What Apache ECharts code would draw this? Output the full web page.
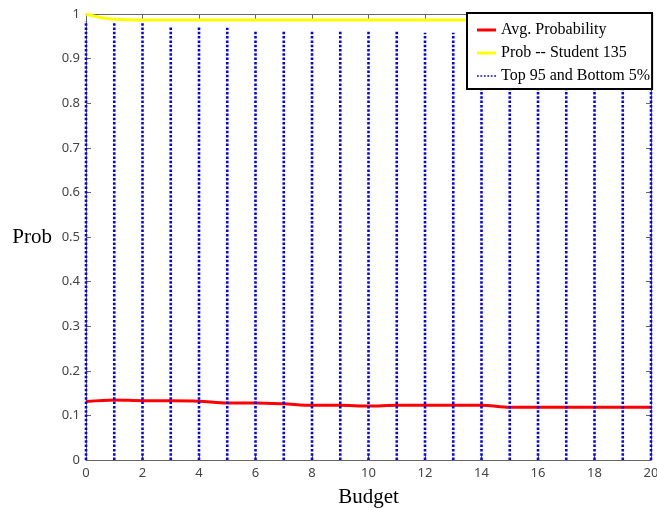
<!DOCTYPE html>
<html><head><meta charset="utf-8">
<script src="https://cdn.jsdelivr.net/npm/echarts@6/dist/echarts.min.js"></script>
<style>html,body{margin:0;padding:0;background:#fff}#c{width:657px;height:508px}</style>
</head><body><div id="c"></div>
<script>
var budget = [0,1,2,3,4,5,6,7,8,9,10,11,12,13,14,15,16,17,18,19,20];
var avgProb = [0.131,0.1345,0.133,0.133,0.132,0.128,0.128,0.126,0.1226,0.1226,0.121,0.1226,0.1226,0.1226,0.1226,0.118,0.118,0.118,0.118,0.118,0.118];
var studentProb = [1.0,0.988,0.9865,0.9865,0.9865,0.9865,0.9865,0.9865,0.9865,0.9865,0.9865,0.9865,0.9865,0.9865,0.9865,0.9865,0.9865,0.9865,0.9865,0.9865,0.9865];
var bandTop = [0.984,0.979,0.979,0.971,0.971,0.969,0.96,0.962,0.962,0.962,0.962,0.962,0.958,0.958,0.956,0.956,0.955,0.955,0.955,0.952,0.95];
var bandBottom = [0,0,0,0,0,0,0,0,0,0,0,0,0,0,0,0,0,0,0,0,0];
var xTicks = [0,2,4,6,8,10,12,14,16,18,20];
var yTicks = [0,0.1,0.2,0.3,0.4,0.5,0.6,0.7,0.8,0.9,1];

var bandData = [];
budget.forEach(function(x,i){
  bandData.push([x,bandBottom[i]]);
  bandData.push([x,bandTop[i]]);
  bandData.push([x,'-']);
});

var axisCol = '#666';
var tickFont = {color:'#444', fontFamily:'Noto Sans', fontSize:13};
function xAx(pos, show){
  return {type:'value', min:0, max:20, interval:2, position:pos,
    axisLine:{show:true, onZero:false, lineStyle:{color:axisCol, width:1}},
    axisTick:{show:true, inside:true, length:5, lineStyle:{color:axisCol}},
    axisLabel:Object.assign({show:show, margin:7}, tickFont),
    splitLine:{show:false},
    name: show ? 'Budget' : '', nameLocation:'middle', nameGap:27,
    nameTextStyle:{fontFamily:'Liberation Serif', fontSize:21, color:'#000'}};
}
function yAx(pos, show){
  return {type:'value', min:0, max:1, interval:0.1, position:pos,
    axisLine:{show:true, onZero:false, lineStyle:{color:axisCol, width:1}},
    axisTick:{show:true, inside:true, length:5, lineStyle:{color:axisCol}},
    axisLabel:Object.assign({show:show, margin:6, formatter:function(v){return String(Math.round(v*10)/10);}}, tickFont),
    splitLine:{show:false},
    name: show ? 'Prob' : '', nameLocation:'middle', nameGap:34, nameRotate:0,
    nameTextStyle:{fontFamily:'Liberation Serif', fontSize:21, color:'#000'}};
}

var dotPath = 'path://M0,0h2v2h-2zM4,0h2v2h-2zM8,0h2v2h-2zM12,0h2v2h-2zM16,0h2v2h-2zM20,0h2v2h-2z';
var chart = echarts.init(document.getElementById('c'), null, {renderer:'canvas'});
chart.setOption({
  animation:false,
  backgroundColor:'#fff',
  grid:{left:86, right:6, top:14, bottom:48, containLabel:false, outerBoundsMode:'none'},
  xAxis:[xAx('bottom', true), xAx('top', false)],
  yAxis:[yAx('left', true), yAx('right', false)],
  legend:{
    orient:'vertical', left:467, top:13, z:20, zlevel:0,
    backgroundColor:'#fff', borderColor:'#000', borderWidth:2,
    padding:[9,2,5,10], itemGap:7, itemWidth:19, itemHeight:3,
    textStyle:{fontFamily:'Liberation Serif', fontSize:16, color:'#000', padding:[0,0,0,0]},
    data:[
      {name:'Avg. Probability', icon:'rect'},
      {name:'Prob -- Student 135', icon:'rect'},
      {name:'Top 95 and Bottom 5%', icon:dotPath, itemStyle:{color:'#0000ff'}}
    ]
  },
  series:[
    {name:'Avg. Probability', type:'line', data:budget.map(function(x,i){return [x,avgProb[i]];}),
     smooth:0.3, showSymbol:false, symbol:'none', lineStyle:{color:'#ff0000', width:3}, itemStyle:{color:'#ff0000'}, z:3},
    {name:'Prob -- Student 135', type:'line', data:budget.map(function(x,i){return [x,studentProb[i]];}),
     smooth:0.4, showSymbol:false, symbol:'none', lineStyle:{color:'#ffff00', width:3}, itemStyle:{color:'#ffff00'}, z:2},
    {name:'Top 95 and Bottom 5%', type:'line', data:bandData, connectNulls:false,
     showSymbol:false, symbol:'none', lineStyle:{color:'#0000ff', width:2.6, type:[2.5,1.8]}, itemStyle:{color:'#0000ff'}, z:4}
  ]
});
</script></body></html>
